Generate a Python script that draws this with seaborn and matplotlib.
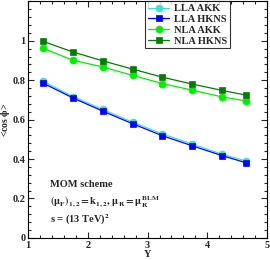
import numpy as np
import pandas as pd
import matplotlib
matplotlib.use("Agg")
import matplotlib.pyplot as plt
import seaborn as sns
from matplotlib.ticker import MultipleLocator

Y = [1.25, 1.75, 2.25, 2.75, 3.25, 3.75, 4.25, 4.65]
lla_akk = [0.795, 0.717, 0.652, 0.587, 0.527, 0.476, 0.424, 0.390]
lla_hkns = [0.785, 0.710, 0.643, 0.579, 0.518, 0.467, 0.417, 0.381]
nla_akk = [0.962, 0.901, 0.867, 0.824, 0.783, 0.749, 0.715, 0.695]
nla_hkns = [0.997, 0.943, 0.898, 0.856, 0.815, 0.780, 0.748, 0.724]
names = ["LLA AKK", "LLA HKNS", "NLA AKK", "NLA HKNS"]
colors = ["#40e0d0", "#0000ff", "#00ee00", "#008000"]
marks = ["o", "s", "o", "s"]

sns.set_theme(style="ticks")
plt.rcParams["font.family"] = ["Liberation Serif", "DejaVu Serif"]
plt.rcParams["mathtext.fontset"] = "stix"
plt.rcParams["mathtext.default"] = "bf"

rows = []
for n, vals in zip(names, [lla_akk, lla_hkns, nla_akk, nla_hkns]):
    for x, v in zip(Y, vals):
        rows.append({"Y": x, "val": v, "series": n})
df = pd.DataFrame(rows)

fs = 7.5
fig = plt.figure(figsize=(2.7, 2.6), dpi=100)
ax = fig.add_axes([0.104, 0.085, 0.885, 0.91])
sns.lineplot(data=df, x="Y", y="val", hue="series", style="series",
             hue_order=names, style_order=names,
             palette=dict(zip(names, colors)),
             markers=dict(zip(names, marks)), dashes=False,
             markersize=5, markeredgewidth=0.5, linewidth=0.9, ax=ax)
for line in ax.lines:
    line.set_markeredgecolor(line.get_color())

ax.set_xlim(1, 5)
ax.set_ylim(0, 1.2)
ax.set_xticks([1, 2, 3, 4, 5])
ax.set_yticks([0, 0.2, 0.4, 0.6, 0.8, 1.0])
ax.set_yticklabels(["0", "0.2", "0.4", "0.6", "0.8", "1"])
ax.xaxis.set_minor_locator(MultipleLocator(0.2))
ax.yaxis.set_minor_locator(MultipleLocator(0.04))
ax.tick_params(which="both", direction="in", top=True, right=True,
               labelsize=fs, width=0.8, pad=2)
ax.tick_params(which="major", length=4)
ax.tick_params(which="minor", length=2)
for lab in ax.get_xticklabels() + ax.get_yticklabels():
    lab.set_fontweight("bold")
for s in ax.spines.values():
    s.set_linewidth(0.8)
    s.set_color("black")
ax.set_xlabel("Y", fontsize=fs, fontweight="bold", labelpad=0.5)
ax.set_ylabel(r"<cos $\phi$>", fontsize=fs - 0.5, fontweight="bold", labelpad=0)

leg = ax.legend(loc="upper right", bbox_to_anchor=(0.845, 1.0),
                prop={"weight": "bold", "size": fs}, frameon=True,
                fancybox=False, edgecolor="black", handlelength=2.0,
                borderpad=0.25, labelspacing=0.15, handletextpad=0.5,
                borderaxespad=0.0)
leg.get_frame().set_linewidth(0.8)

ax.text(1.37, 0.27, "MOM scheme", fontsize=fs, fontweight="bold", va="center")
ax.text(1.37, 0.18, r"$(\mu_F)_{1,2} = k_{1,2},\, \mu_R = \mu_R^{BLM}$",
        fontsize=fs, va="center")
ax.text(1.37, 0.09, r"s = (13 TeV)$^2$", fontsize=fs, fontweight="bold", va="center")

fig.savefig("out.png", dpi=100)
